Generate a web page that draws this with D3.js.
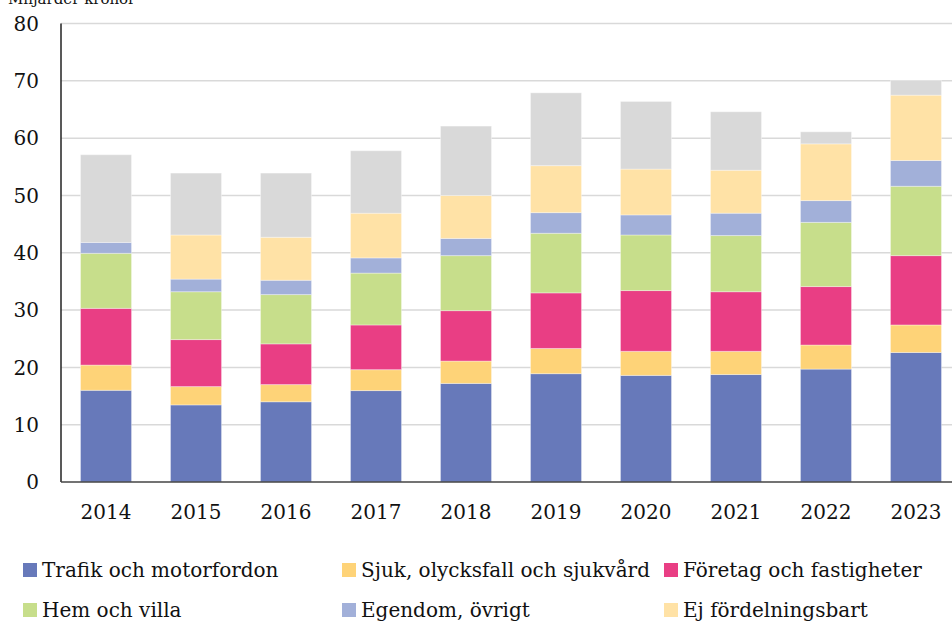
<!DOCTYPE html>
<html>
<head>
<meta charset="utf-8">
<script src="https://cdn.jsdelivr.net/npm/d3@7"></script>
<style>
  body { margin: 0; background: #fff; }
  svg { display: block; font-family: "DejaVu Serif", serif; }
</style>
</head>
<body>
<svg width="952" height="621"></svg>
<script>
var years = ["2014","2015","2016","2017","2018","2019","2020","2021","2022","2023"];

// Miljarder kronor per år
var trafik   = [16.0, 13.45, 14.0, 15.95, 17.2, 18.9, 18.6, 18.75, 19.7, 22.6];
var sjuk     = [4.4, 3.2, 3.0, 3.65, 3.9, 4.4, 4.2, 4.05, 4.2, 4.8];
var foretag  = [9.9, 8.2, 7.1, 7.8, 8.8, 9.7, 10.6, 10.4, 10.2, 12.1];
var hem      = [9.6, 8.35, 8.6, 9.05, 9.6, 10.4, 9.7, 9.8, 11.2, 12.1];
var egendom  = [1.9, 2.2, 2.5, 2.65, 3.0, 3.6, 3.5, 3.9, 3.8, 4.5];
var ejford   = [0, 7.7, 7.5, 7.8, 7.5, 8.2, 8.0, 7.5, 9.9, 11.4];
var ovrigt   = [15.3, 10.8, 11.2, 10.9, 12.1, 12.7, 11.8, 10.2, 2.1, 2.6];

var yTicks = [0, 10, 20, 30, 40, 50, 60, 70, 80];

var series = [
  {name: "Trafik och motorfordon", values: trafik, color: "#6779ba"},
  {name: "Sjuk, olycksfall och sjukvård", values: sjuk, color: "#fed378"},
  {name: "Företag och fastigheter", values: foretag, color: "#e93e84"},
  {name: "Hem och villa", values: hem, color: "#c7de8b"},
  {name: "Egendom, övrigt", values: egendom, color: "#a2b0d9"},
  {name: "Ej fördelningsbart", values: ejford, color: "#ffe2a6"},
  {name: "", values: ovrigt, color: "#d9d9d9"}
];

var svg = d3.select("svg");

var x = d3.scaleBand()
    .domain(years)
    .range([61, 961])
    .paddingInner(0.433)
    .paddingOuter(0.2167);

var y = d3.scaleLinear()
    .domain([0, 80])
    .range([482, 23.5]);

// gridlines
svg.append("g")
  .selectAll("line")
  .data(yTicks.filter(function(d) { return d > 0; }))
  .join("line")
    .attr("x1", 61)
    .attr("x2", 952)
    .attr("y1", function(d) { return y(d); })
    .attr("y2", function(d) { return y(d); })
    .attr("stroke", "#d9d9d9")
    .attr("stroke-width", 1.5);

// stacked data
var table = years.map(function(yr, i) {
  var row = {year: yr};
  series.forEach(function(s, k) { row["s" + k] = s.values[i]; });
  return row;
});
var stack = d3.stack().keys(series.map(function(s, k) { return "s" + k; }));
var stacked = stack(table);

svg.append("g")
  .selectAll("g")
  .data(stacked)
  .join("g")
    .attr("fill", function(d, k) { return series[k].color; })
  .selectAll("rect")
  .data(function(d) { return d; })
  .join("rect")
    .attr("x", function(d) { return x(d.data.year); })
    .attr("width", x.bandwidth())
    .attr("y", function(d) { return y(d[1]); })
    .attr("height", function(d) { return Math.max(0, y(d[0]) - y(d[1])); })
    .attr("stroke", "rgba(255,255,255,0.35)")
    .attr("stroke-width", 1);

// axes
svg.append("line")
  .attr("x1", 61).attr("x2", 61)
  .attr("y1", y(80)).attr("y2", y(0))
  .attr("stroke", "#222").attr("stroke-width", 1.5);
svg.append("line")
  .attr("x1", 61).attr("x2", 952)
  .attr("y1", y(0)).attr("y2", y(0))
  .attr("stroke", "#444").attr("stroke-width", 1.5);

svg.append("g")
  .selectAll("text")
  .data(yTicks)
  .join("text")
    .attr("x", 39)
    .attr("y", function(d) { return y(d); })
    .attr("dy", "0.36em")
    .attr("text-anchor", "end")
    .attr("font-size", "20px")
    .attr("fill", "#111")
    .text(function(d) { return d; });

svg.append("g")
  .selectAll("text")
  .data(years)
  .join("text")
    .attr("x", function(d) { return x(d) + x.bandwidth() / 2; })
    .attr("y", 519)
    .attr("text-anchor", "middle")
    .attr("font-size", "20px")
    .attr("fill", "#111")
    .text(function(d) { return d; });

// the reference crops this label at the top edge
svg.append("text")
  .attr("x", 8)
  .attr("y", 4)
  .attr("font-size", "15px")
  .attr("fill", "#111")
  .text("Miljarder kronor");

// legend
var legendPos = [[23, 570], [342, 570], [664, 570], [23, 610], [342, 610], [664, 610]];
var lg = svg.append("g")
  .selectAll("g")
  .data(series.slice(0, 6))
  .join("g")
    .attr("transform", function(d, i) { return "translate(" + legendPos[i][0] + "," + legendPos[i][1] + ")"; });
lg.append("rect")
  .attr("x", 0).attr("y", -7)
  .attr("width", 14).attr("height", 14)
  .attr("fill", function(d) { return d.color; });
lg.append("text")
  .attr("x", 19)
  .attr("dy", "0.35em")
  .attr("font-size", "20px")
  .attr("fill", "#111")
  .text(function(d) { return d.name; });
</script>
</body>
</html>
